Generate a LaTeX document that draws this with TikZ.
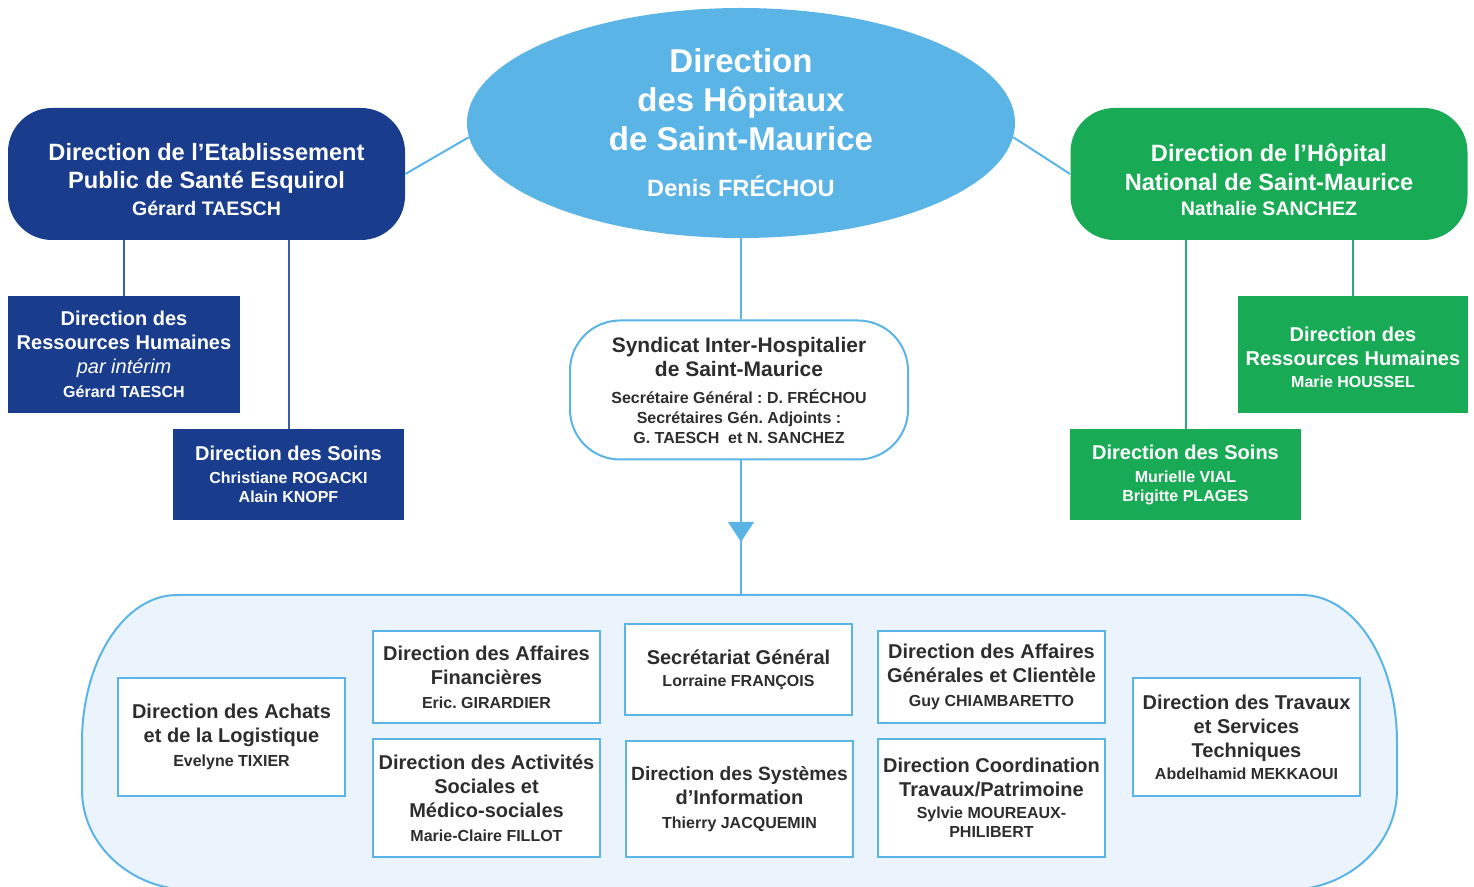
\documentclass[tikz,border=0pt]{standalone}
\usepackage{fontspec}
\setmainfont{Liberation Sans}
\usetikzlibrary{positioning,shapes.geometric}

\definecolor{hopblue}{RGB}{90,180,230}
\definecolor{esqblue}{RGB}{25,60,140}
\definecolor{esqline}{RGB}{60,95,165}
\definecolor{hngreen}{RGB}{25,170,85}
\definecolor{hnline}{RGB}{40,170,120}
\definecolor{poolfill}{RGB}{235,244,252}
\definecolor{darktext}{RGB}{45,45,45}

\lineskiplimit=-20pt
\frenchspacing
\newcommand{\who}[1]{{\fontsize{8}{10}\selectfont #1}}

\tikzset{
  headbox/.style={rounded corners=22pt, minimum width=198.5pt, minimum height=66pt, align=center, text=white, inner sep=0pt, font=\bfseries\fontsize{11.8}{14}\selectfont},
  subbox/.style={minimum width=115.5pt, align=center, text=white, inner sep=0pt, font=\bfseries\fontsize{10}{12}\selectfont},
  unitbox/.style={draw=hopblue, fill=white, line width=0.8pt, minimum width=113.5pt, align=center, text=darktext, inner sep=0pt, font=\bfseries\fontsize{10}{12}\selectfont},
  link/.style={line width=1pt},
}

\begin{document}
\begin{tikzpicture}[x=0.5pt,y=-0.5pt]
\useasboundingbox (0,0) rectangle (1474,887);

% common directions
\filldraw[draw=hopblue, fill=poolfill, line width=1pt] (177,595) -- (1302,595)
  arc[start angle=-90, end angle=0, x radius=95, y radius=147] -- (1397,790)
  arc[start angle=0, end angle=90, x radius=110, y radius=100] -- (192,890)
  arc[start angle=90, end angle=180, x radius=110, y radius=100] -- (82,742)
  arc[start angle=180, end angle=270, x radius=95, y radius=147] -- cycle;

\node[ellipse, fill=hopblue, minimum width=274pt, minimum height=115pt, inner sep=0pt, align=center, text=white, font=\bfseries\fontsize{16.5}{19.5}\selectfont] (hop) at (741,123) {Direction\\des Hôpitaux\\de Saint-Maurice\\[3.5pt]{\fontsize{11.8}{12}\selectfont Denis FRÉCHOU}};

\node[headbox, fill=esqblue] (esq) at (206.5,174) {\rule{0pt}{14pt}Direction de l’Etablissement\\Public de Santé Esquirol\\[-0.5pt]{\fontsize{9.8}{12}\selectfont Gérard TAESCH}};
\node[headbox, fill=hngreen] (hn) at (1269,174) {\rule{0pt}{15pt}Direction de l’Hôpital\\[0.5pt]National de Saint-Maurice\\[-1.5pt]{\fontsize{9.8}{12}\selectfont Nathalie SANCHEZ}};

\node[subbox, fill=esqblue, minimum width=116pt, minimum height=58.5pt] (esqrh) at (124,354.5) {Direction des\\Ressources Humaines\\{\mdseries\itshape par intérim}\\\who{Gérard TAESCH}};
\node[subbox, fill=esqblue, minimum height=45.5pt, font=\bfseries\fontsize{8}{9.5}\selectfont] (esqsoins) at (288.5,474.5) {{\fontsize{10}{12}\selectfont Direction des Soins}\\[2pt]Christiane ROGACKI\\Alain KNOPF};
\node[subbox, fill=hngreen, minimum width=115pt, minimum height=58.5pt] (hnrh) at (1353,354.5) {\rule{0pt}{10.5pt}Direction des\\Ressources Humaines\\[-1pt]\who{Marie HOUSSEL}};
\node[subbox, fill=hngreen, minimum height=45.5pt, font=\bfseries\fontsize{8}{9.5}\selectfont] (hnsoins) at (1185.5,474.5) {{\fontsize{10}{12}\selectfont Direction des Soins}\\[2pt]Murielle VIAL\\Brigitte PLAGES};

\node[draw=hopblue, fill=white, line width=1pt, rounded corners=25pt, minimum width=169pt, minimum height=69.5pt, align=center, inner sep=0pt, text=darktext, font=\bfseries\fontsize{8}{10}\selectfont] (sih) at (739,390) {{\fontsize{10.5}{12}\selectfont Syndicat Inter-Hospitalier}\\[2pt]{\fontsize{10.5}{12}\selectfont de Saint-Maurice}\\[3.5pt]Secrétaire Général : D. FRÉCHOU\\Secrétaires Gén. Adjoints :\\G. TAESCH\ \ et N. SANCHEZ};

% links
\draw[link, hopblue] (hop.183) -- (esq.east);
\draw[link, hopblue] (hop.357) -- (hn.west);
\draw[link, esqline] (esq.south -| esqrh.north) -- (esqrh.north);
\draw[link, esqline] (esq.south -| esqsoins.north) -- (esqsoins.north);
\draw[link, hnline] (hn.south -| hnrh.north) -- (hnrh.north);
\draw[link, hnline] (hn.south -| hnsoins.north) -- (hnsoins.north);
\draw[link, hopblue] (hop.south) -- (hop.south |- sih.north);
\coordinate (pool) at (741,595);
\coordinate (tip) at (741,542);
\draw[link, hopblue] (hop.south |- sih.south) -- (pool);
\fill[hopblue] (tip) -- ++(-13,-20) -- ++(26,0) -- cycle;

\node[unitbox, minimum height=59pt] (achats) at (231.5,737) {Direction des Achats\\et de la Logistique\\\who{Evelyne TIXIER}};
\node[unitbox, minimum height=46pt] (finances) at (486.5,677) {Direction des Affaires\\Financières\\\who{Eric. GIRARDIER}};
\node[unitbox, minimum height=59pt] (social) at (486.5,798) {Direction des Activités\\Sociales et\\Médico-sociales\\\who{Marie-Claire FILLOT}};
\node[unitbox, minimum height=45.5pt] (secgen) at (738.5,669.5) {Secrétariat Général\\[-1pt]\who{Lorraine FRANÇOIS}};
\node[unitbox, minimum height=58pt] (si) at (739.5,799) {{\fontsize{9.6}{12}\selectfont Direction des Systèmes}\\d’Information\\\who{Thierry JACQUEMIN}};
\node[unitbox, minimum height=46pt] (affgen) at (991.5,677) {Direction des Affaires\\Générales et Clientèle\\\who{Guy CHIAMBARETTO}};
\node[unitbox, minimum height=59pt] (coord) at (991.5,798) {Direction Coordination\\Travaux/Patrimoine\\[-1pt]\who{Sylvie MOUREAUX-}\\[-2.5pt]\who{PHILIBERT}};
\node[unitbox, minimum height=59pt] (travaux) at (1246.5,737) {Direction des Travaux\\et Services\\Techniques\\[-1pt]\who{Abdelhamid MEKKAOUI}};
\end{tikzpicture}
\end{document}
